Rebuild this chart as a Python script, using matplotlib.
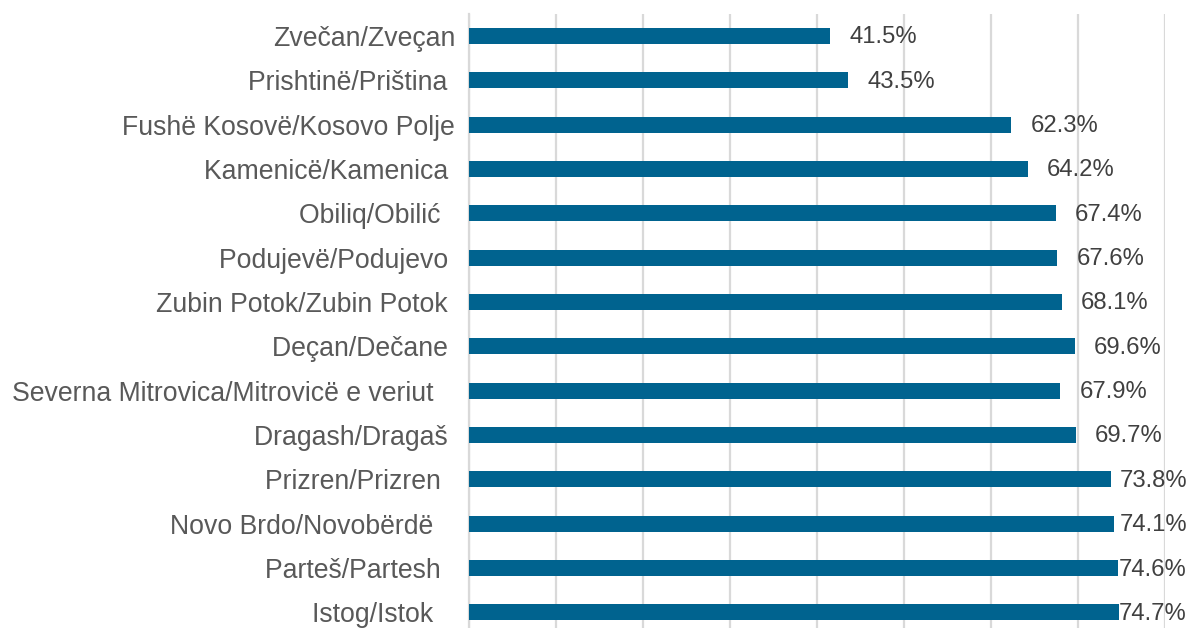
import matplotlib
matplotlib.use("Agg")
import matplotlib.pyplot as plt

municipalities = [
    "Zvečan/Zveçan",
    "Prishtinë/Priština ",
    "Fushë Kosovë/Kosovo Polje",
    "Kamenicë/Kamenica ",
    "Obiliq/Obilić  ",
    "Podujevë/Podujevo ",
    "Zubin Potok/Zubin Potok ",
    "Deçan/Dečane ",
    "Severna Mitrovica/Mitrovicë e veriut   ",
    "Dragash/Dragaš ",
    "Prizren/Prizren  ",
    "Novo Brdo/Novobërdë   ",
    "Parteš/Partesh  ",
    "Istog/Istok   ",
]
shares = [41.5, 43.5, 62.3, 64.2, 67.4, 67.6, 68.1, 69.6, 67.9, 69.7, 73.8, 74.1, 74.6, 74.7]

plt.rcParams['font.family'] = ['Liberation Sans', 'DejaVu Sans']

fig = plt.figure(figsize=(11.89, 6.28), dpi=100)
ax = fig.add_axes([0.3945, 0.0, 0.5855, 0.978])

pos = list(range(len(municipalities)))
ax.barh(pos, shares, height=0.36, color='#00638F', zorder=3)

ax.set_xlim(0, 80)
ax.set_ylim(13.35, -0.5)
ax.set_xticks(range(0, 81, 10))
ax.xaxis.grid(True, color='#d9d9d9', linewidth=1.6, zorder=0)
ax.tick_params(axis='x', length=0, labelbottom=False)
ax.tick_params(axis='y', length=0, pad=10, labelsize=19.2, labelcolor='#595959')
ax.set_yticks(pos)
ax.set_yticklabels(municipalities)
for s in ['top', 'right', 'bottom']:
    ax.spines[s].set_visible(False)
ax.spines['left'].set_color('#d9d9d9')
ax.spines['left'].set_linewidth(1.6)

fig.canvas.draw()
renderer = fig.canvas.get_renderer()
fig_w = fig.bbox.width
for y, v in zip(pos, shares):
    t = ax.annotate(f"{v:.1f}%", (v, y), xytext=(14, -1), textcoords='offset points',
                    ha='left', va='center', fontsize=17.2, color='#404040')
    bb = t.get_window_extent(renderer)
    over = bb.x1 - (fig_w - 2)
    if over > 0:
        t.set_position((14 - over * 72 / fig.dpi, -1))

fig.savefig("out.png", dpi=100)
